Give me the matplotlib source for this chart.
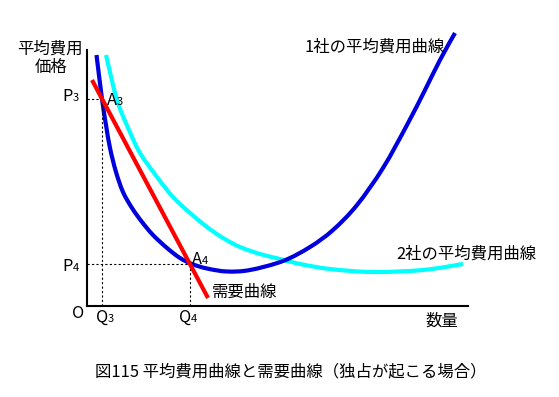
import matplotlib
matplotlib.use('Agg')
import matplotlib.pyplot as plt
from matplotlib.path import Path
from matplotlib.patches import PathPatch

plt.rcParams['font.family'] = ['Noto Sans CJK JP', 'DejaVu Sans']

# 1社の平均費用曲線 (数量, 価格)
firm1_q = [0.95, 1.5, 1.9, 2.3, 2.9, 3.6, 4.5, 5.5, 6.6, 8.0, 9.3, 10.5,
           12.0, 14.0, 16.3, 19.6, 22.3, 24.6, 27.0, 29.6, 32.0, 33.8,
           35.3, 36.8]
firm1_p = [25.1, 20.7, 18.1, 15.8, 13.4, 11.4, 9.8, 8.4, 7.1, 5.8, 4.8, 4.2,
           3.75, 3.45, 3.6, 4.5, 5.9, 7.6, 10.1, 13.8, 18.1, 21.6, 24.6, 27.3]

# 2社の平均費用曲線
firm2_q = [1.9, 3.0, 4.2, 5.3, 7.0, 8.6, 10.3, 12.0, 13.6, 15.3, 17.3, 19.3,
           21.3, 24.3, 28.6, 33.6, 37.6]
firm2_p = [25.1, 20.6, 17.6, 15.3, 12.9, 10.9, 9.3, 7.9, 6.8, 5.9, 5.2, 4.7,
           4.2, 3.7, 3.4, 3.6, 4.2]

# 需要曲線
demand_q = [0.5, 12.1]
demand_p = [22.6, 0.8]

# 交点
Q3, P3 = 1.5, 20.7
Q4, P4 = 10.3, 4.2

X_MAX, Y_MAX = 38.1, 25.6
FS = 11.8
FS_SUB = 8


def smooth_path(xs, ys):
    """読み取った点を通る滑らかな曲線 (Catmull-Rom をベジェ曲線で描く)."""
    pts = list(zip(xs, ys))
    n = len(pts)
    verts = [pts[0]]
    codes = [Path.MOVETO]
    for i in range(n - 1):
        p0 = pts[i - 1] if i > 0 else pts[i]
        p1 = pts[i]
        p2 = pts[i + 1]
        p3 = pts[i + 2] if i + 2 < n else pts[i + 1]
        c1 = (p1[0] + (p2[0] - p0[0]) / 6, p1[1] + (p2[1] - p0[1]) / 6)
        c2 = (p2[0] - (p3[0] - p1[0]) / 6, p2[1] - (p3[1] - p1[1]) / 6)
        verts += [c1, c2, p2]
        codes += [Path.CURVE4] * 3
    return Path(verts, codes)


fig = plt.figure(figsize=(5.59, 3.97), dpi=100)
ax = fig.add_axes([87 / 559, 91 / 397, 381 / 559, 276 / 397])
ax.set_xlim(0, X_MAX)
ax.set_ylim(0, 27.6)
ax.set_xticks([])
ax.set_yticks([])
for s in ['top', 'right']:
    ax.spines[s].set_visible(False)
ax.spines['left'].set_bounds(0, Y_MAX)
ax.spines['bottom'].set_bounds(0, X_MAX)
for s in ['left', 'bottom']:
    ax.spines[s].set_linewidth(1.5)
    ax.spines[s].set_color('black')

# 補助線
dot = dict(color='black', lw=0.8, linestyle=(0, (2, 2)))
ax.plot([0, Q3], [P3, P3], **dot)
ax.plot([Q3, Q3], [0, P3], **dot)
ax.plot([0, Q4], [P4, P4], **dot)
ax.plot([Q4, Q4], [0, P4], **dot)

lw = 3
ax.add_patch(PathPatch(smooth_path(firm2_q, firm2_p), fill=False,
                       edgecolor='#00ffff', lw=lw, capstyle='butt', clip_on=False))
ax.add_patch(PathPatch(smooth_path(firm1_q, firm1_p), fill=False,
                       edgecolor='#0000dd', lw=lw, capstyle='butt', clip_on=False))
ax.plot(demand_q, demand_p, color='#ff0000', lw=lw, solid_capstyle='butt',
        clip_on=False)


def sub_label(x, y, main, sub):
    # x は本体と添字の境目, y はベースライン
    ax.text(x, y, main, ha='right', va='baseline', fontsize=FS)
    ax.text(x, y, sub, ha='left', va='baseline', fontsize=FS_SUB)


sub_label(-1.45, 20.5, 'P', '3')
sub_label(-1.45, 3.5, 'P', '4')
sub_label(3.0, 20.1, 'A', '3')
sub_label(11.5, 4.2, 'A', '4')
sub_label(2.1, -1.55, 'Q', '3')
sub_label(10.4, -1.55, 'Q', '4')
ax.text(-0.9, -1.2, 'O', ha='center', va='baseline', fontsize=FS)

ax.text(-3.7, 25.7, '平均費用', ha='center', va='center', fontsize=FS)
ax.text(-3.6, 23.9, '価格', ha='center', va='center', fontsize=FS)
ax.text(35.8, 25.9, '1社の平均費用曲線', ha='right', va='center', fontsize=FS)
ax.text(44.9, 5.2, '2社の平均費用曲線', ha='right', va='center', fontsize=FS)
ax.text(12.5, 1.4, '需要曲線', ha='left', va='center', fontsize=FS)
ax.text(35.5, -1.5, '数量', ha='center', va='center', fontsize=FS)

fig.text(291 / 559, 1 - 372 / 397, '図115 平均費用曲線と需要曲線（独占が起こる場合）',
         ha='center', va='center', fontsize=FS)

fig.savefig('out.png', dpi=100)
